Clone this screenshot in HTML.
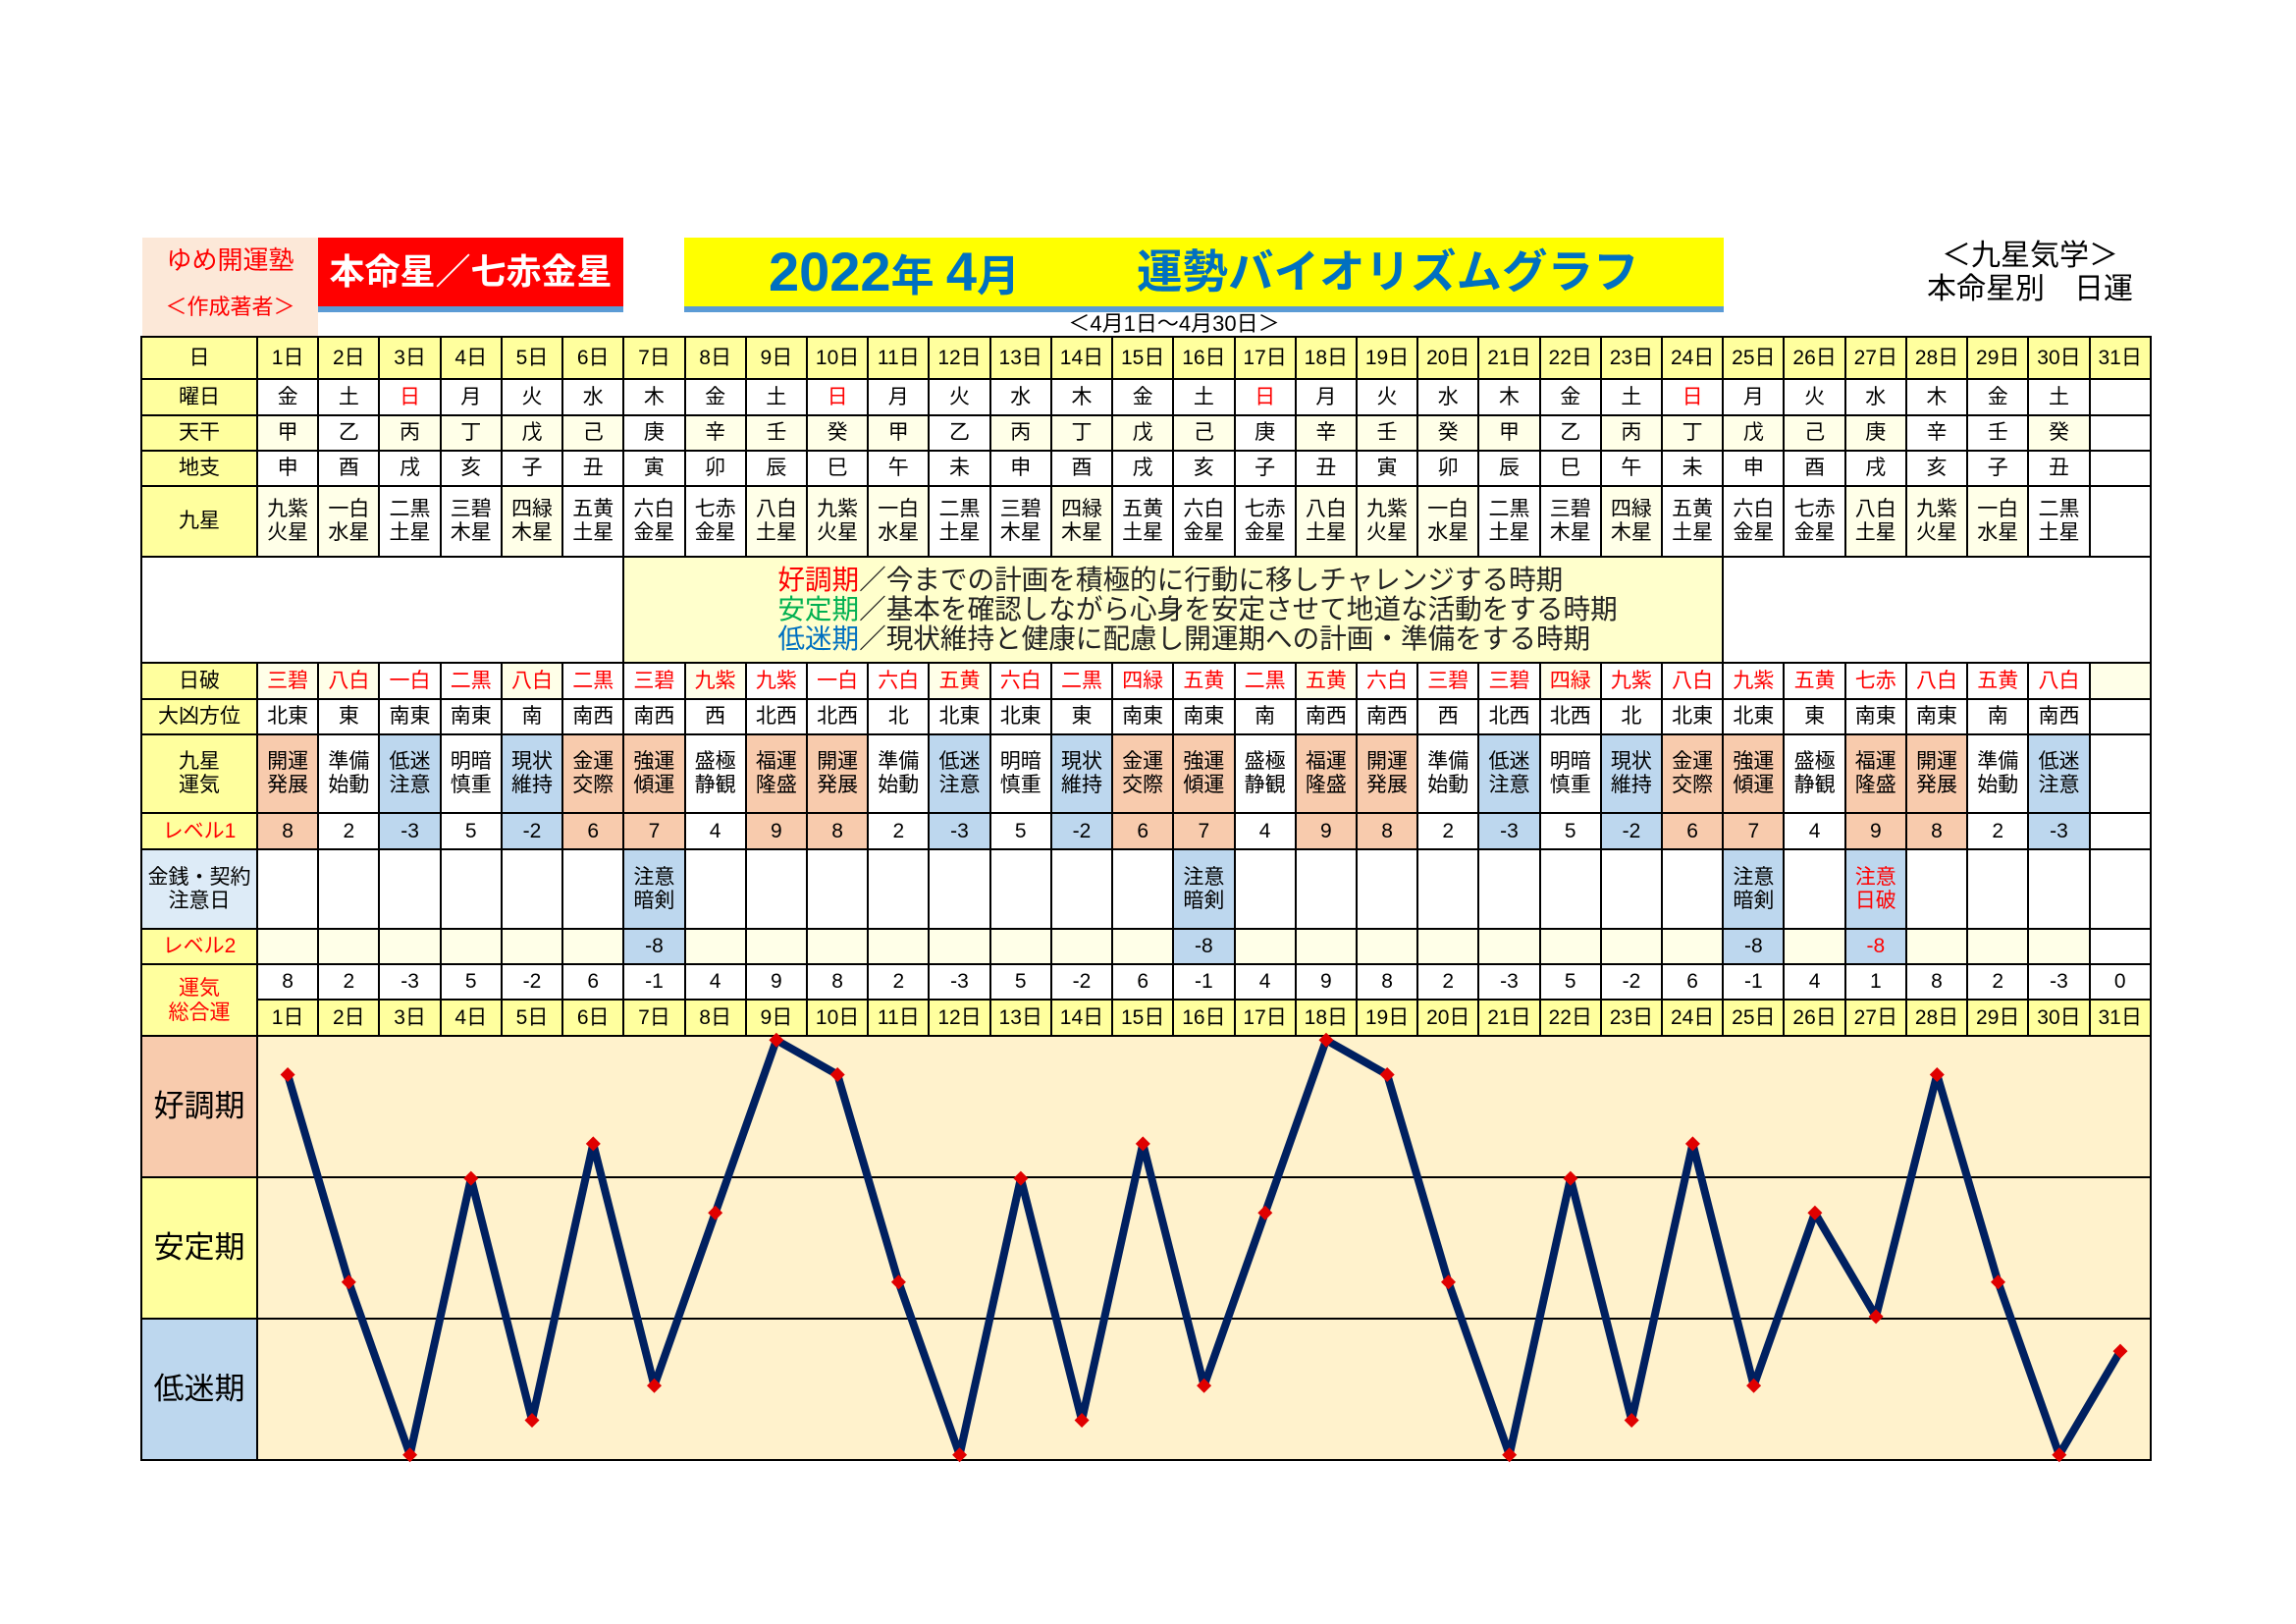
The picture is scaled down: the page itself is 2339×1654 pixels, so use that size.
<!DOCTYPE html>
<html lang="ja">
<head>
<meta charset="utf-8">
<style>
body{margin:0;background:#fff;}
#page{position:relative;width:2339px;height:1654px;overflow:hidden;background:#fff;font-family:"Liberation Sans","Noto Sans CJK JP",sans-serif;color:#000;}
.abs{position:absolute;}
.grid{position:absolute;left:143px;top:342px;display:grid;background:#000;padding:2px;gap:2px;
grid-template-columns:116px repeat(31,60.23px);
grid-template-rows:41px 35px 34px 34px 70px 106px 35px 34px 78px 35px 79px 34px 34px 35px 142px 142px 142px;}
.grid>div{background:#fff;display:flex;align-items:center;justify-content:center;text-align:center;font-size:21px;line-height:24px;white-space:nowrap;}
.grid>.y{background:#FFFF9E;}
.grid>.p{background:#FFFFE8;}
.grid>.o{background:#F8CBAD;}
.grid>.b{background:#BDD7EE;}
.grid>.lb{background:#DDEBF7;}
.grid>.ch{background:#FFF2CC;}
.grid>.lg{background:#FFFFCC;display:flex;flex-direction:column;align-items:flex-start;justify-content:center;padding-left:156px;font-size:27.6px;line-height:30px;color:#222;}
.r{color:#FF0000;}
.n{font-family:"Liberation Sans Narrow","Liberation Sans","Noto Sans CJK JP",sans-serif;font-size:22px;}
.big{font-size:31px!important;}
</style>
</head>
<body>
<div id="page">

<!-- header boxes -->
<div class="abs" style="left:145px;top:242px;width:179px;height:100px;background:#FCE8D8;"></div>
<div class="abs" style="left:145px;top:250px;width:179px;height:30px;line-height:30px;text-align:center;font-size:26px;color:#FF0000;">ゆめ開運塾</div>
<div class="abs" style="left:145px;top:299px;width:179px;height:28px;line-height:28px;text-align:center;font-size:22px;color:#FF0000;">＜作成著者＞</div>

<div class="abs" style="left:324px;top:242px;width:311px;height:70px;background:#FF0000;"></div>
<div class="abs" style="left:324px;top:312px;width:311px;height:6px;background:#5B9BD5;"></div>
<div class="abs" style="left:324px;top:242px;width:311px;height:70px;line-height:70px;text-align:center;font-size:36px;font-weight:bold;color:#fff;">本命星／七赤金星</div>

<div class="abs" style="left:697px;top:242px;width:1059px;height:70px;background:#FFFF00;"></div>
<div class="abs" style="left:697px;top:312px;width:1059px;height:6px;background:#5B9BD5;"></div>
<div class="abs" style="left:783px;top:246px;height:62px;line-height:62px;white-space:nowrap;color:#0070C0;font-weight:bold;"><span style="font-family:'Liberation Sans Narrow','Liberation Sans',sans-serif;font-size:56px;">2022</span><span style="font-size:44px;">年</span><span style="font-size:44px;"> </span><span style="font-family:'Liberation Sans Narrow','Liberation Sans',sans-serif;font-size:56px;">4</span><span style="font-size:44px;">月</span></div>
<div class="abs" style="left:1158px;top:246px;height:62px;line-height:62px;white-space:nowrap;color:#0070C0;font-weight:bold;font-size:46.5px;">運勢バイオリズムグラフ</div>

<div class="abs" style="left:1046px;top:318px;width:300px;height:24px;line-height:24px;text-align:center;font-size:22px;white-space:nowrap;">＜4月1日～4月30日＞</div>

<div class="abs" style="left:1900px;top:244px;width:336px;height:34px;line-height:34px;text-align:center;font-size:30px;white-space:nowrap;">＜九星気学＞</div>
<div class="abs" style="left:1900px;top:278px;width:336px;height:34px;line-height:34px;text-align:center;font-size:30px;white-space:nowrap;">本命星別　日運</div>

<div class="grid">
<!-- Row 1: 日 -->
<div class="y">日</div>
<div class="y n">1日</div><div class="y n">2日</div><div class="y n">3日</div><div class="y n">4日</div><div class="y n">5日</div><div class="y n">6日</div><div class="y n">7日</div><div class="y n">8日</div><div class="y n">9日</div><div class="y n">10日</div><div class="y n">11日</div><div class="y n">12日</div><div class="y n">13日</div><div class="y n">14日</div><div class="y n">15日</div><div class="y n">16日</div><div class="y n">17日</div><div class="y n">18日</div><div class="y n">19日</div><div class="y n">20日</div><div class="y n">21日</div><div class="y n">22日</div><div class="y n">23日</div><div class="y n">24日</div><div class="y n">25日</div><div class="y n">26日</div><div class="y n">27日</div><div class="y n">28日</div><div class="y n">29日</div><div class="y n">30日</div><div class="y n">31日</div>

<!-- Row 2: 曜日 -->
<div class="y">曜日</div>
<div>金</div><div>土</div><div class="r">日</div><div>月</div><div>火</div><div>水</div><div>木</div><div>金</div><div>土</div><div class="r">日</div><div>月</div><div>火</div><div>水</div><div>木</div><div>金</div><div>土</div><div class="r">日</div><div>月</div><div>火</div><div>水</div><div>木</div><div>金</div><div>土</div><div class="r">日</div><div>月</div><div>火</div><div>水</div><div>木</div><div>金</div><div>土</div><div></div>

<!-- Row 3: 天干 -->
<div class="y">天干</div>
<div class="p">甲</div><div>乙</div><div class="p">丙</div><div class="p">丁</div><div class="p">戊</div><div class="p">己</div><div>庚</div><div class="p">辛</div><div class="p">壬</div><div class="p">癸</div><div class="p">甲</div><div>乙</div><div class="p">丙</div><div class="p">丁</div><div class="p">戊</div><div class="p">己</div><div>庚</div><div class="p">辛</div><div class="p">壬</div><div class="p">癸</div><div class="p">甲</div><div>乙</div><div class="p">丙</div><div class="p">丁</div><div class="p">戊</div><div class="p">己</div><div class="p">庚</div><div>辛</div><div>壬</div><div class="p">癸</div><div></div>

<!-- Row 4: 地支 -->
<div class="y">地支</div>
<div>申</div><div>酉</div><div>戌</div><div>亥</div><div>子</div><div>丑</div><div>寅</div><div>卯</div><div>辰</div><div>巳</div><div>午</div><div>未</div><div>申</div><div>酉</div><div>戌</div><div>亥</div><div>子</div><div>丑</div><div>寅</div><div>卯</div><div>辰</div><div>巳</div><div>午</div><div>未</div><div>申</div><div>酉</div><div>戌</div><div>亥</div><div>子</div><div>丑</div><div></div>

<!-- Row 5: 九星 -->
<div class="y">九星</div>
<div class="p">九紫<br>火星</div><div class="p">一白<br>水星</div><div>二黒<br>土星</div><div>三碧<br>木星</div><div class="p">四緑<br>木星</div><div>五黄<br>土星</div><div>六白<br>金星</div><div>七赤<br>金星</div><div class="p">八白<br>土星</div>
<div class="p">九紫<br>火星</div><div class="p">一白<br>水星</div><div>二黒<br>土星</div><div>三碧<br>木星</div><div class="p">四緑<br>木星</div><div>五黄<br>土星</div><div>六白<br>金星</div><div>七赤<br>金星</div><div class="p">八白<br>土星</div>
<div class="p">九紫<br>火星</div><div class="p">一白<br>水星</div><div>二黒<br>土星</div><div>三碧<br>木星</div><div class="p">四緑<br>木星</div><div>五黄<br>土星</div><div>六白<br>金星</div><div>七赤<br>金星</div><div class="p">八白<br>土星</div>
<div class="p">九紫<br>火星</div><div class="p">一白<br>水星</div><div>二黒<br>土星</div><div></div>

<!-- Row 6: legend -->
<div style="grid-column:span 7;"></div>
<div class="lg" style="grid-column:span 18;">
<div><span style="color:#FF0000;">好調期</span>／今までの計画を積極的に行動に移しチャレンジする時期</div>
<div><span style="color:#00B050;">安定期</span>／基本を確認しながら心身を安定させて地道な活動をする時期</div>
<div><span style="color:#0070C0;">低迷期</span>／現状維持と健康に配慮し開運期への計画・準備をする時期</div>
</div>
<div style="grid-column:span 7;"></div>

<!-- Row 7: 日破 -->
<div class="y">日破</div>
<div class="r p">三碧</div><div class="r p">八白</div><div class="r">一白</div><div class="r">二黒</div><div class="r p">八白</div><div class="r">二黒</div><div class="r">三碧</div><div class="r p">九紫</div><div class="r">九紫</div><div class="r">一白</div><div class="r">六白</div><div class="r p">五黄</div><div class="r">六白</div><div class="r">二黒</div><div class="r">四緑</div><div class="r">五黄</div><div class="r">二黒</div><div class="r p">五黄</div><div class="r">六白</div><div class="r">三碧</div><div class="r">三碧</div><div class="r p">四緑</div><div class="r">九紫</div><div class="r">八白</div><div class="r">九紫</div><div class="r">五黄</div><div class="r">七赤</div><div class="r">八白</div><div class="r">五黄</div><div class="r">八白</div><div class="p"></div>

<!-- Row 8: 大凶方位 -->
<div class="y">大凶方位</div>
<div>北東</div><div>東</div><div>南東</div><div>南東</div><div>南</div><div>南西</div><div>南西</div><div>西</div><div>北西</div><div>北西</div><div>北</div><div>北東</div><div>北東</div><div>東</div><div>南東</div><div>南東</div><div>南</div><div>南西</div><div>南西</div><div>西</div><div>北西</div><div>北西</div><div>北</div><div>北東</div><div>北東</div><div>東</div><div>南東</div><div>南東</div><div>南</div><div>南西</div><div></div>

<!-- Row 9: 九星運気 -->
<div class="y">九星<br>運気</div>
<div class="o">開運<br>発展</div><div>準備<br>始動</div><div class="b">低迷<br>注意</div><div>明暗<br>慎重</div><div class="b">現状<br>維持</div><div class="o">金運<br>交際</div><div class="o">強運<br>傾運</div><div>盛極<br>静観</div><div class="o">福運<br>隆盛</div>
<div class="o">開運<br>発展</div><div>準備<br>始動</div><div class="b">低迷<br>注意</div><div>明暗<br>慎重</div><div class="b">現状<br>維持</div><div class="o">金運<br>交際</div><div class="o">強運<br>傾運</div><div>盛極<br>静観</div><div class="o">福運<br>隆盛</div>
<div class="o">開運<br>発展</div><div>準備<br>始動</div><div class="b">低迷<br>注意</div><div>明暗<br>慎重</div><div class="b">現状<br>維持</div><div class="o">金運<br>交際</div><div class="o">強運<br>傾運</div><div>盛極<br>静観</div><div class="o">福運<br>隆盛</div>
<div class="o">開運<br>発展</div><div>準備<br>始動</div><div class="b">低迷<br>注意</div><div></div>

<!-- Row 10: レベル1 -->
<div class="y r">レベル1</div>
<div class="o n">8</div><div class="n">2</div><div class="b n">-3</div><div class="n">5</div><div class="b n">-2</div><div class="o n">6</div><div class="o n">7</div><div class="n">4</div><div class="o n">9</div>
<div class="o n">8</div><div class="n">2</div><div class="b n">-3</div><div class="n">5</div><div class="b n">-2</div><div class="o n">6</div><div class="o n">7</div><div class="n">4</div><div class="o n">9</div>
<div class="o n">8</div><div class="n">2</div><div class="b n">-3</div><div class="n">5</div><div class="b n">-2</div><div class="o n">6</div><div class="o n">7</div><div class="n">4</div><div class="o n">9</div>
<div class="o n">8</div><div class="n">2</div><div class="b n">-3</div><div></div>

<!-- Row 11: 金銭・契約 注意日 -->
<div class="lb">金銭・契約<br>注意日</div>
<div></div><div></div><div></div><div></div><div></div><div></div><div class="b">注意<br>暗剣</div><div></div><div></div><div></div><div></div><div></div><div></div><div></div><div></div><div class="b">注意<br>暗剣</div><div></div><div></div><div></div><div></div><div></div><div></div><div></div><div></div><div class="b">注意<br>暗剣</div><div></div><div class="b r">注意<br>日破</div><div></div><div></div><div></div><div></div>

<!-- Row 12: レベル2 -->
<div class="y r">レベル2</div>
<div class="p"></div><div class="p"></div><div class="p"></div><div class="p"></div><div class="p"></div><div class="p"></div><div class="b n">-8</div><div class="p"></div><div class="p"></div><div class="p"></div><div class="p"></div><div class="p"></div><div class="p"></div><div class="p"></div><div class="p"></div><div class="b n">-8</div><div class="p"></div><div class="p"></div><div class="p"></div><div class="p"></div><div class="p"></div><div class="p"></div><div class="p"></div><div class="p"></div><div class="b n">-8</div><div class="p"></div><div class="b n r">-8</div><div class="p"></div><div class="p"></div><div class="p"></div><div></div>

<!-- Row 13-14: 運気総合運 -->
<div class="y r" style="grid-row:span 2;line-height:25px;">運気<br>総合運</div>
<div class="n">8</div><div class="n">2</div><div class="n">-3</div><div class="n">5</div><div class="n">-2</div><div class="n">6</div><div class="n">-1</div><div class="n">4</div><div class="n">9</div><div class="n">8</div><div class="n">2</div><div class="n">-3</div><div class="n">5</div><div class="n">-2</div><div class="n">6</div><div class="n">-1</div><div class="n">4</div><div class="n">9</div><div class="n">8</div><div class="n">2</div><div class="n">-3</div><div class="n">5</div><div class="n">-2</div><div class="n">6</div><div class="n">-1</div><div class="n">4</div><div class="n">1</div><div class="n">8</div><div class="n">2</div><div class="n">-3</div><div class="n">0</div>
<div class="y n">1日</div><div class="y n">2日</div><div class="y n">3日</div><div class="y n">4日</div><div class="y n">5日</div><div class="y n">6日</div><div class="y n">7日</div><div class="y n">8日</div><div class="y n">9日</div><div class="y n">10日</div><div class="y n">11日</div><div class="y n">12日</div><div class="y n">13日</div><div class="y n">14日</div><div class="y n">15日</div><div class="y n">16日</div><div class="y n">17日</div><div class="y n">18日</div><div class="y n">19日</div><div class="y n">20日</div><div class="y n">21日</div><div class="y n">22日</div><div class="y n">23日</div><div class="y n">24日</div><div class="y n">25日</div><div class="y n">26日</div><div class="y n">27日</div><div class="y n">28日</div><div class="y n">29日</div><div class="y n">30日</div><div class="y n">31日</div>

<!-- Chart bands -->
<div class="o big">好調期</div><div class="ch" style="grid-column:span 31;"></div>
<div class="y big">安定期</div><div class="ch" style="grid-column:span 31;"></div>
<div class="b big">低迷期</div><div class="ch" style="grid-column:span 31;"></div>
</div>

<svg class="abs" style="left:0;top:0;" width="2339" height="1654" viewBox="0 0 2339 1654">
<defs>
<marker id="dm" viewBox="-9 -9 18 18" markerWidth="18" markerHeight="18" refX="0" refY="0" markerUnits="userSpaceOnUse" orient="0">
<path d="M0,-7.5 L7.5,0 L0,7.5 L-7.5,0 Z" fill="#E00000"/>
</marker>
</defs>
<polyline fill="none" stroke="#002060" stroke-width="8" stroke-linejoin="round" stroke-linecap="round"
marker-start="url(#dm)" marker-mid="url(#dm)" marker-end="url(#dm)"
points="293.1,1094.5 355.3,1305.7 417.6,1481.7 479.8,1200.1 542.0,1446.5 604.3,1164.9 666.5,1411.3 728.7,1235.3 790.9,1059.3 853.2,1094.5 915.4,1305.7 977.6,1481.7 1039.9,1200.1 1102.1,1446.5 1164.3,1164.9 1226.6,1411.3 1288.8,1235.3 1351.0,1059.3 1413.2,1094.5 1475.5,1305.7 1537.7,1481.7 1599.9,1200.1 1662.2,1446.5 1724.4,1164.9 1786.6,1411.3 1848.9,1235.3 1911.1,1340.9 1973.3,1094.5 2035.5,1305.7 2097.8,1481.7 2160.0,1376.1"/>
</svg>

</div>
</body>
</html>
